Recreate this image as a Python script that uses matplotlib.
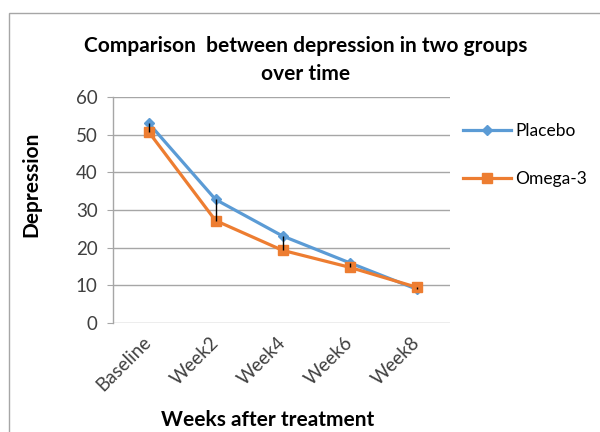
import matplotlib
matplotlib.use("Agg")
import matplotlib.pyplot as plt
from matplotlib.patches import Rectangle

categories = ["Baseline", "Week2", "Week4", "Week6", "Week8"]
placebo = [53.1, 32.8, 23.1, 16.0, 9.0]
omega3 = [50.8, 27.2, 19.3, 14.8, 9.5]
yticks = [0, 10, 20, 30, 40, 50, 60]

plt.rcParams['font.family'] = ['Lato', 'DejaVu Sans']

fig = plt.figure(figsize=(6, 4.32), dpi=100)
W, H = 600, 432

# outer chart border
fig.patches.append(Rectangle((9 / W, -0.1), 1.2, 1 - 13 / H + 0.1,
                             transform=fig.transFigure, fill=False,
                             edgecolor="#a6a6a6", linewidth=1.0))

ax = fig.add_axes([113 / W, 1 - 323 / H, (450 - 113) / W, (323 - 97) / H])
x = list(range(len(categories)))

ax.set_xlim(-0.53, 4.5)
ax.set_ylim(0, 60)
ax.set_yticks(yticks)
ax.yaxis.grid(True, color="#a6a6a6", linewidth=1.0)
ax.set_axisbelow(True)

for s in ["top", "right", "bottom"]:
    ax.spines[s].set_visible(False)
ax.spines["left"].set_color("#a6a6a6")
ax.spines["left"].set_linewidth(1.0)

ax.plot(x, placebo, color="#5B9BD5", linewidth=2.3, marker="D",
        markersize=5.5, label="Placebo", zorder=3)
ax.plot(x, omega3, color="#ED7D31", linewidth=2.3, marker="s",
        markersize=7.5, label="Omega-3", zorder=4)

# high-low lines
lo = [min(a, b) for a, b in zip(placebo, omega3)]
hi = [max(a, b) for a, b in zip(placebo, omega3)]
ax.vlines(x, lo, hi, color="black", linewidth=1.0, zorder=5)

ax.set_xticks(x)
ax.set_xticklabels(categories, rotation=45, ha="right", va="center",
                   rotation_mode="anchor", fontsize=13.5)
ax.tick_params(axis="x", length=0, pad=12)
ax.tick_params(axis="y", length=4, color="#a6a6a6", pad=7, labelsize=13.5,
               labelcolor="#404040")
ax.tick_params(axis="x", labelcolor="#404040")

ax.set_ylabel("Depression", fontsize=15, fontweight="bold")
ax.yaxis.set_label_coords(-(113 - 41) / (450 - 113), (323 - 184) / (323 - 97))
ax.set_xlabel("Weeks after treatment", fontsize=15, fontweight="bold")
ax.xaxis.set_label_coords((268 - 113) / (450 - 113), -(410 - 323) / (323 - 97))

fig.text(306 / W, 1 - 60 / H, "Comparison  between depression in two groups\nover time",
         ha="center", va="center", fontsize=15, fontweight="bold",
         linespacing=1.45)

ax.legend(loc="upper left", bbox_to_anchor=(463 / W, 1 - 123 / H),
          bbox_transform=fig.transFigure, frameon=False, fontsize=12.5,
          handlelength=2.75, handletextpad=0.25, labelspacing=1.85,
          borderaxespad=0, borderpad=0)

fig.savefig("out.png", dpi=100)
